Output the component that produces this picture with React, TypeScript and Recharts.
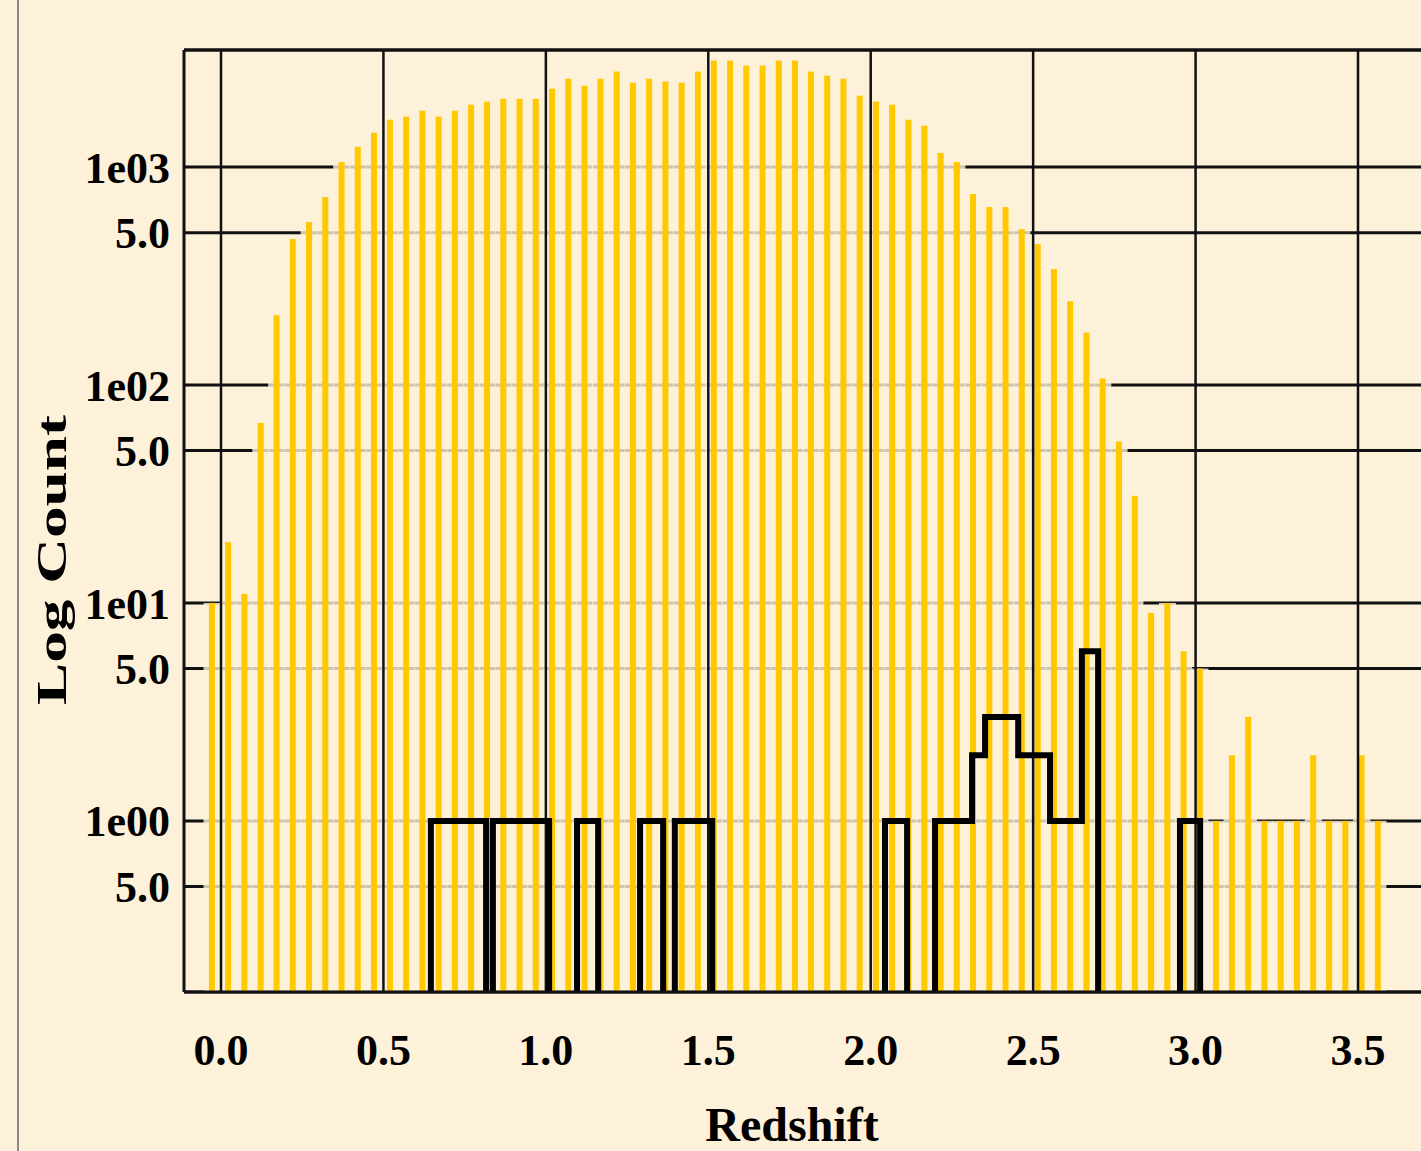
import React from 'react';
import { ComposedChart, Bar, Line, XAxis, YAxis, CartesianGrid, ReferenceLine, Label } from 'recharts';

// Redshift bin centres of the full sample
const binCenters = [
  -0.028, 0.022, 0.072, 0.122, 0.171, 0.221, 0.271, 0.321, 0.371, 0.421,
  0.471, 0.520, 0.570, 0.620, 0.670, 0.720, 0.770, 0.819, 0.869, 0.919,
  0.969, 1.019, 1.069, 1.119, 1.168, 1.218, 1.268, 1.318, 1.368, 1.418,
  1.468, 1.517, 1.567, 1.617, 1.667, 1.717, 1.767, 1.816, 1.866, 1.916,
  1.966, 2.016, 2.066, 2.116, 2.165, 2.215, 2.265, 2.315, 2.365, 2.415,
  2.465, 2.514, 2.564, 2.614, 2.664, 2.714, 2.764, 2.813, 2.863, 2.913,
  2.963, 3.013, 3.063, 3.112, 3.162, 3.212, 3.262, 3.312, 3.362, 3.411,
  3.461, 3.511, 3.561,
];

// Counts of the full sample (yellow bars)
const allCounts = [
  10, 19, 11, 67, 209, 467, 559, 728, 1055, 1239,
  1437, 1648, 1702, 1813, 1702, 1813, 1932, 1995, 2057, 2057,
  2057, 2287, 2543, 2360, 2543, 2742, 2438, 2543, 2465, 2438,
  2742, 3077, 3077, 2918, 2918, 3077, 3077, 2742, 2625, 2543,
  2125, 1995, 1932, 1648, 1546, 1161, 1055, 752, 655, 655,
  519, 443, 340, 242, 174, 107, 55, 31, 9, 10,
  6, 5, 1, 2, 3, 1, 1, 1, 2, 1,
  1, 2, 1,
];

// Sub-sample histogram (black outline): bin edges and the count from each edge on
const subsetEdges = [
  0.600, 0.646, 0.816, 0.837, 1.010, 1.096, 1.161, 1.290, 1.361, 1.397,
  1.512, 2.044, 2.112, 2.198, 2.312, 2.352, 2.454, 2.552, 2.650, 2.700,
  2.952, 3.014,
];
const subsetCounts = [
  0, 1, 0, 1, 0, 1, 0, 1, 0, 1,
  0, 1, 0, 1, 2, 3, 2, 1, 6, 0,
  1, 0,
];

const xTicks = [0, 0.5, 1, 1.5, 2, 2.5, 3, 3.5];
const xTickLabels = ['0.0', '0.5', '1.0', '1.5', '2.0', '2.5', '3.0', '3.5'];
const yTicks = [0.5, 1, 5, 10, 50, 100, 500, 1000];
const yTickLabels = ['5.0', '1e00', '5.0', '1e01', '5.0', '1e02', '5.0', '1e03'];

const FONT = "'Liberation Serif', 'Times New Roman', serif";
const BG = '#fdf1da';
const INK = '#111111';
const BAR = '#ffc800';
const xDomain: [number, number] = [-0.1139, 3.7524];
const yDomain: [number, number] = [0.164, 3443];
const FLOOR = 0.01;
const W = 1440;
const H = 1151;

const tickStyle = { fill: '#000', fontSize: 44, fontFamily: FONT, fontWeight: 700 };

// Bar shape that keeps the bar centred on its data x with a fixed pixel width
const makeShape = (w: number, fill: string, opacity: number) => (props: any) => {
  const { x, y, width, height } = props;
  if (![x, y, width, height].every((n) => typeof n === 'number' && isFinite(n))) return <g />;
  const cx = x + width / 2;
  const top = Math.min(y, y + height);
  return <rect x={cx - w / 2} y={top} width={w} height={Math.abs(height)} fill={fill} fillOpacity={opacity} />;
};
const maskShape = makeShape(17, BG, 0.8);
const barShape = makeShape(6, BAR, 1);

export default function App() {
  const barData = binCenters.map((x, i) => ({ x, count: allCounts[i] }));
  const lineData = subsetEdges.map((x, i) => ({ x, sub: subsetCounts[i] > 0 ? subsetCounts[i] : FLOOR }));

  return (
    <div style={{ position: 'fixed', left: 0, top: 0, width: 1421, height: 1151, background: BG, overflow: 'hidden' }}>
      <div style={{ position: 'absolute', left: 17, top: 0, width: 2, height: 1151, background: '#8a8a8a' }} />

      {/* bottom layer: horizontal grid, partly veiled behind the histogram envelope */}
      <div style={{ position: 'absolute', left: 0, top: 0 }}>
        <ComposedChart width={W} height={H} data={barData} margin={{ top: 50, right: 0, bottom: 159, left: 184 }}>
          <CartesianGrid vertical={false} stroke={INK} strokeWidth={3} />
          <XAxis type="number" dataKey="x" domain={xDomain} allowDataOverflow ticks={xTicks} hide />
          <YAxis scale="log" type="number" domain={yDomain} allowDataOverflow ticks={yTicks} interval={0} hide />
          <Bar dataKey="count" shape={maskShape} fill={BG} isAnimationActive={false} />
        </ComposedChart>
      </div>

      {/* top layer: axes, vertical grid, bars and sub-sample outline */}
      <div style={{ position: 'absolute', left: 0, top: 0 }}>
        <ComposedChart width={W} height={H} data={barData} margin={{ top: 0, right: 0, bottom: 0, left: 0 }}>
          <XAxis
            xAxisId="top"
            orientation="top"
            type="number"
            dataKey="x"
            domain={xDomain}
            allowDataOverflow
            ticks={xTicks}
            interval={0}
            height={50}
            tick={false}
            tickSize={6}
            axisLine={{ stroke: INK, strokeWidth: 3 }}
            tickLine={{ stroke: INK, strokeWidth: 2.5 }}
          />
          <XAxis
            type="number"
            dataKey="x"
            domain={xDomain}
            allowDataOverflow
            ticks={xTicks}
            interval={0}
            height={159}
            tickFormatter={(v: number) => xTickLabels[xTicks.indexOf(v)] ?? String(v)}
            tickLine={false}
            tickSize={8}
            tickMargin={34}
            axisLine={{ stroke: INK, strokeWidth: 3 }}
            tick={tickStyle}
          >
            <Label
              content={() => (
                <text x={792} y={1141} textAnchor="middle" fontFamily={FONT} fontWeight={700} fontSize={48} fill="#000">
                  Redshift
                </text>
              )}
            />
          </XAxis>
          <YAxis
            scale="log"
            type="number"
            domain={yDomain}
            allowDataOverflow
            ticks={yTicks}
            interval={0}
            width={184}
            tickLine={false}
            tickSize={8}
            tickMargin={6}
            tickFormatter={(v: number) => yTickLabels[yTicks.indexOf(v)] ?? String(v)}
            axisLine={{ stroke: INK, strokeWidth: 3 }}
            tick={tickStyle}
          >
            <Label
              content={() => (
                <text
                  transform="translate(66,560) rotate(-90)"
                  textAnchor="middle"
                  fontFamily={FONT}
                  fontWeight={700}
                  fontSize={42}
                  fill="#000"
                  textLength={290}
                  lengthAdjust="spacingAndGlyphs"
                >
                  Log Count
                </text>
              )}
            />
          </YAxis>
          {xTicks.map((t) => (
            <ReferenceLine key={t} x={t} stroke={INK} strokeWidth={2.5} />
          ))}
          <Bar dataKey="count" shape={barShape} fill={BAR} isAnimationActive={false} />
          <Line
            data={lineData}
            dataKey="sub"
            type="stepAfter"
            stroke="#000"
            strokeWidth={6}
            strokeLinejoin="miter"
            dot={false}
            activeDot={false}
            isAnimationActive={false}
          />
        </ComposedChart>
      </div>
    </div>
  );
}
